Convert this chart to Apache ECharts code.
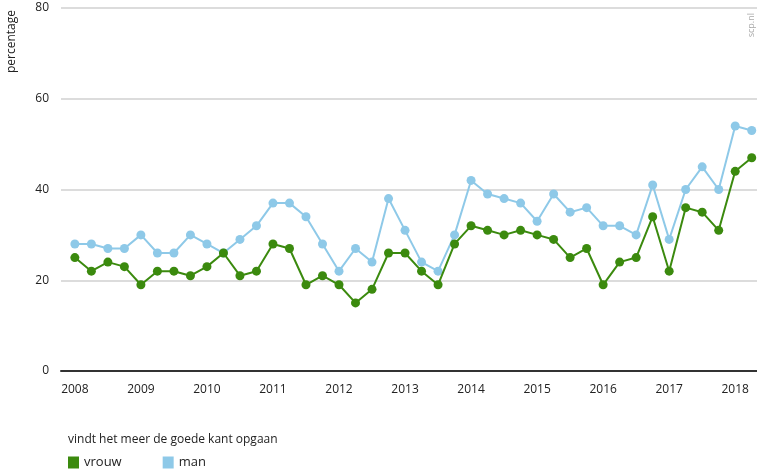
<!DOCTYPE html>
<html>
<head>
<meta charset="utf-8">
<script src="https://cdn.jsdelivr.net/npm/echarts@6/dist/echarts.min.js"></script>
<style>
    html,body{margin:0;padding:0;background:#fff;}
    #chart{width:757px;height:476px;}
</style>
</head>
<body>
<div id="chart"></div>
<script>
// jaren op de x-as
var years = [2008, 2009, 2010, 2011, 2012, 2013, 2014, 2015, 2016, 2017, 2018];
var yTicks = [0, 20, 40, 60, 80];
// kwartaalcijfers, eerste punt = 2008 Q1
var vrouw = [25, 22, 24, 23, 19, 22, 22, 21, 23, 26, 21, 22, 28, 27, 19, 21,
             19, 15, 18, 26, 26, 22, 19, 28, 32, 31, 30, 31, 30, 29, 25, 27,
             19, 24, 25, 34, 22, 36, 35, 31, 44, 47];
var man = [28, 28, 27, 27, 30, 26, 26, 30, 28, 26, 29, 32, 37, 37, 34, 28,
           22, 27, 24, 38, 31, 24, 22, 30, 42, 39, 38, 37, 33, 39, 35, 36,
           32, 32, 30, 41, 29, 40, 45, 40, 54, 53];

var font = 'Open Sans';

function toPoints(arr){
    var out = [];
    for(var i=0;i<arr.length;i++){
        out.push([years[0] + i/4, arr[i]]);
    }
    return out;
}

var myChart = echarts.init(document.getElementById('chart'));
var option = {
    backgroundColor: '#fff',
    animation: false,
    color: ['#3b8a0e', '#8ec9e8'],
    title: {
        text: 'vindt het meer de goede kant opgaan',
        left: 63,
        top: 429,
        textStyle: {fontFamily: font, fontSize: 12, fontWeight: 'normal', color: '#222'}
    },
    legend: {
        left: 63,
        top: 451,
        icon: 'rect',
        itemWidth: 11,
        itemHeight: 12,
        itemGap: 41,
        textStyle: {fontFamily: font, fontSize: 13, color: '#222'},
        data: ['vrouw', 'man']
    },
    graphic: [
        {
            type: 'text',
            left: 6,
            top: 10,
            rotation: Math.PI/2,
            style: {text: 'percentage', fontFamily: font, fontSize: 12, fill: '#222'}
        },
        {
            type: 'text',
            left: 747,
            top: 13,
            rotation: Math.PI/2,
            style: {text: 'scp.nl', fontFamily: font, fontSize: 9, fill: '#aaa'}
        }
    ],
    grid: {
        left: 61,
        right: 0,
        top: 8,
        bottom: 105
    },
    xAxis: {
        type: 'value',
        min: 2007.79,
        max: 2018.33,
        axisLine: {show: true, lineStyle: {color: '#333', width: 2}},
        axisTick: {show: false},
        splitLine: {show: false},
        axisLabel: {
            customValues: years,
            formatter: function(v){ return String(v); },
            margin: 13,
            fontFamily: font,
            fontSize: 12,
            color: '#222'
        }
    },
    yAxis: {
        type: 'value',
        min: yTicks[0],
        max: yTicks[yTicks.length-1],
        interval: 20,
        axisLine: {show: false},
        axisTick: {show: false},
        splitLine: {lineStyle: {color: '#dcdcdc', width: 2}},
        axisLabel: {
            margin: 12,
            fontFamily: font,
            fontSize: 12,
            color: '#222'
        }
    },
    series: [
        {
            name: 'vrouw',
            type: 'line',
            data: toPoints(vrouw),
            symbol: 'circle',
            symbolSize: 9,
            lineStyle: {width: 2},
            z: 3
        },
        {
            name: 'man',
            type: 'line',
            data: toPoints(man),
            symbol: 'circle',
            symbolSize: 9,
            lineStyle: {width: 2},
            z: 2
        }
    ]
};
myChart.setOption(option);
</script>
</body>
</html>
